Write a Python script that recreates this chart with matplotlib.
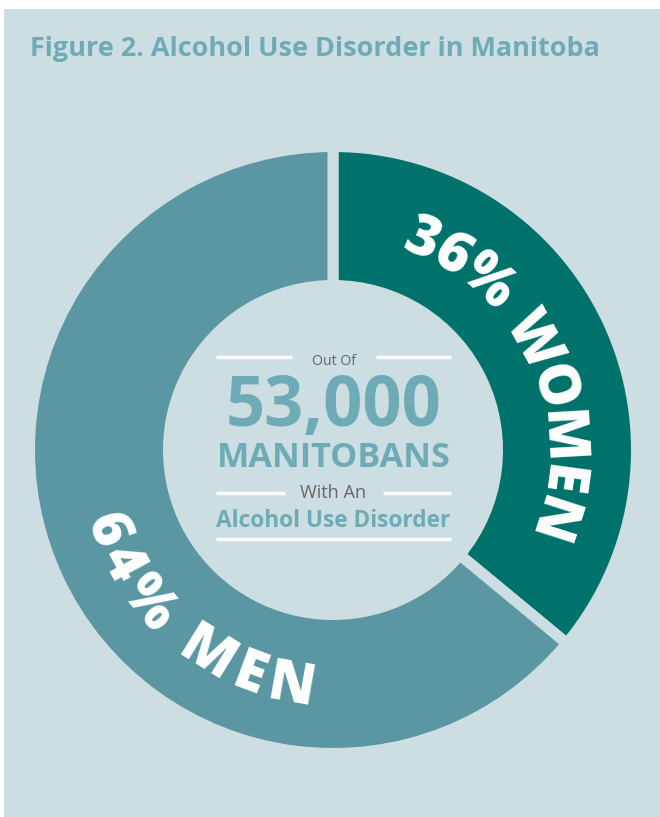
import numpy as np
import matplotlib
matplotlib.use("Agg")
import matplotlib.pyplot as plt
from matplotlib.patches import Rectangle
from matplotlib.font_manager import FontProperties
from matplotlib.textpath import TextToPath, TextPath

# ---- data ----
title = "Figure 2. Alcohol Use Disorder in Manitoba"
groups = ["WOMEN", "MEN"]
shares = [36, 64]
total = 53000
group_colors = ["#00726c", "#5b97a2"]

# ---- style ----
W, H, DPI = 660, 817, 100
BG = "#cddee2"
TEAL_TEXT = "#6eabb6"
GRAY_TEXT = "#666666"
FAMILY = ["Open Sans", "DejaVu Sans"]
ARC_WEIGHT = 800

fig = plt.figure(figsize=(W / DPI, H / DPI), dpi=DPI, facecolor="white")
ax = fig.add_axes([0, 0, 1, 1])


def Y(y):
    """top-down pixel row -> axes y"""
    return H - y


_t2p = TextToPath()


def text_px(s, weight="bold", size=1.0):
    fp = FontProperties(family=FAMILY, weight=weight, size=size)
    w, h, d = _t2p.get_text_width_height_descent(s, fp, ismath=False)
    return w * DPI / 72.0


def fit_size(s, width_px, weight="bold"):
    return width_px / text_px(s, weight, 1.0)


# background panel
ax.add_patch(Rectangle((4, 0), W - 4, H - 9, facecolor=BG, edgecolor="none", zorder=0))

# ---- donut ----
cx, cy = 333, Y(450)
R_out, R_in = 298, 170
gap = 11
ax.pie(shares, colors=group_colors, startangle=90, counterclock=False,
       center=(cx, cy), radius=R_out + gap / 2,
       wedgeprops=dict(width=R_out - R_in + gap, edgecolor=BG,
                       linewidth=gap * 72 / DPI, joinstyle="miter"))
ax.set_xlim(0, W)
ax.set_ylim(0, H)
ax.set_aspect("equal")
ax.axis("off")

# ---- title ----
ax.text(30, Y(56), title, ha="left", va="baseline", color=TEAL_TEXT,
        fontsize=fit_size(title, 570), fontweight="bold", family=FAMILY)

# ---- centre block ----
mid_x = 333.5
left_x, right_x = 216, 451
line_kw = dict(color="white", lw=2.4, solid_capstyle="butt", zorder=3)


def rule_with_text(y_line, y_base, label, width_px, pad):
    size = fit_size(label, width_px, "normal")
    ax.text(mid_x, Y(y_base), label, ha="center", va="baseline", color=GRAY_TEXT,
            fontsize=size, fontweight="normal", family=FAMILY)
    ax.plot([left_x, mid_x - width_px / 2 - pad], [Y(y_line)] * 2, **line_kw)
    ax.plot([mid_x + width_px / 2 + pad, right_x], [Y(y_line)] * 2, **line_kw)


rule_with_text(357, 365, "Out Of", 44, 20)
big = f"{total:,}"
ax.text(mid_x, Y(426), big, ha="center", va="baseline", color=TEAL_TEXT,
        fontsize=fit_size(big, 216), fontweight="bold", family=FAMILY)
ax.text(mid_x, Y(467), "MANITOBANS", ha="center", va="baseline", color=TEAL_TEXT,
        fontsize=fit_size("MANITOBANS", 233), fontweight="bold", family=FAMILY)
rule_with_text(493, 498, "With An", 66, 16)
ax.text(mid_x, Y(527), "Alcohol Use Disorder", ha="center", va="baseline", color=TEAL_TEXT,
        fontsize=fit_size("Alcohol Use Disorder", 234), fontweight="bold", family=FAMILY)
ax.plot([left_x, right_x], [Y(539)] * 2, **line_kw)


# ---- curved labels ----
def arc_text(s, r_mid, phi0, phi1, cap_px, tops_out):
    fp1 = FontProperties(family=FAMILY, weight=ARC_WEIGHT, size=1.0)
    cap1 = TextPath((0, 0), "H", prop=fp1).get_extents().height * DPI / 72.0
    size = cap_px / cap1
    centers = []
    for i, c in enumerate(s):
        wi = text_px(c, ARC_WEIGHT, size)
        centers.append(text_px(s[: i + 1], ARC_WEIGHT, size) - wi / 2)
    centers = np.array(centers) - centers[0]
    n = len(s)
    want = r_mid * np.radians(abs(phi1 - phi0))
    track = (want - centers[-1]) / (n - 1)
    r_base = r_mid - cap_px / 2 if tops_out else r_mid + cap_px / 2
    sign = -1 if tops_out else 1
    for i, c in enumerate(s):
        if c == " ":
            continue
        L = centers[i] + i * track
        phi = phi0 + sign * np.degrees(L / r_mid)
        rho = phi - 90 if tops_out else phi + 90
        x = cx + r_base * np.cos(np.radians(phi))
        y = cy + r_base * np.sin(np.radians(phi))
        ax.text(x, y, c, rotation=rho, rotation_mode="anchor", ha="center",
                va="baseline", color="white", fontsize=size, fontweight=ARC_WEIGHT,
                family=FAMILY, zorder=4)


labels = [f"{v}% {g}" for v, g in zip(shares, groups)]
arc_text(labels[0], 232, 67.1, -17.8, 40, tops_out=True)
arc_text(labels[1], 236, 199.4, 260.0, 40, tops_out=False)

fig.savefig("out.png", dpi=DPI, facecolor="white")
